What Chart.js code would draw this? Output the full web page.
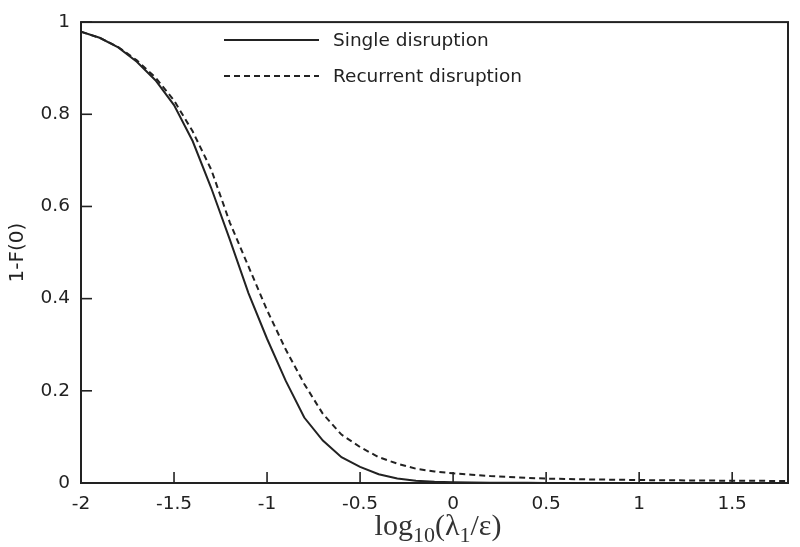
<!DOCTYPE html>
<html>
<head>
<meta charset="utf-8">
<script src="https://cdn.jsdelivr.net/npm/chart.js@4.4.1/dist/chart.umd.min.js"></script>
<style>
  html, body { margin: 0; padding: 0; background: #fff; }
  canvas { display: block; }
</style>
</head>
<body>
<canvas id="c" width="800" height="547"></canvas>
<script>
// ---- data ----
const xValues = [-2.0,-1.9,-1.8,-1.7,-1.6,-1.5,-1.4,-1.3,-1.2,-1.1,-1.0,-0.9,-0.8,-0.7,-0.6,-0.5,-0.4,-0.3,-0.2,-0.1,
                 0.0,0.1,0.2,0.3,0.4,0.5,0.6,0.7,0.8,0.9,1.0,1.1,1.2,1.3,1.4,1.5,1.6,1.7,1.8];
const singleDisruption = [0.979,0.966,0.945,0.914,0.874,0.820,0.742,0.640,0.528,0.412,0.313,0.222,0.142,0.092,0.056,0.035,0.019,0.010,0.005,0.0025,
                          0.0015,0.0009,0.0006,0.0004,0.0003,0.0002,0.0002,0.0001,0.0001,0.0001,0.0001,0,0,0,0,0,0,0,0];
const recurrentDisruption = [0.979,0.966,0.946,0.917,0.880,0.830,0.763,0.680,0.565,0.470,0.375,0.290,0.215,0.150,0.105,0.078,0.056,0.042,0.031,0.025,
                             0.021,0.018,0.015,0.013,0.011,0.0095,0.0088,0.008,0.0075,0.007,0.0065,0.006,0.0058,0.0055,0.0052,0.005,0.0048,0.0046,0.0044];
const seriesLabels = ['Single disruption', 'Recurrent disruption'];
const xTickValues = [-2,-1.5,-1,-0.5,0,0.5,1,1.5];
const yTickValues = [0,0.2,0.4,0.6,0.8,1];
// x title parts: [text, isSubscript]
const xTitleParts = [['log', false], ['10', true], ['(\u03bb', false], ['1', true], ['/\u03b5)', false]];
const yTitle = '1-F(0)';

const ink = '#222222';
const sansFont = "'DejaVu Sans', 'Liberation Sans', Arial, sans-serif";
const serifFont = "'Liberation Serif', 'Times New Roman', serif";

const toPoints = ys => xValues.map((x, i) => ({ x: x, y: ys[i] }));

const boxAndTicks = {
  id: 'boxAndTicks',
  afterDraw(chart) {
    const { ctx, chartArea: a, scales } = chart;
    ctx.save();
    ctx.strokeStyle = ink;
    ctx.lineWidth = 2;
    ctx.strokeRect(a.left, a.top, a.right - a.left, a.bottom - a.top);
    ctx.lineWidth = 1.6;
    const tl = 11;
    scales.x.ticks.forEach((t, i) => {
      const px = scales.x.getPixelForTick(i);
      ctx.beginPath(); ctx.moveTo(px, a.bottom); ctx.lineTo(px, a.bottom - tl); ctx.stroke();
    });
    scales.y.ticks.forEach((t, i) => {
      const py = scales.y.getPixelForTick(i);
      ctx.beginPath(); ctx.moveTo(a.left, py); ctx.lineTo(a.left + tl, py); ctx.stroke();
    });
    // legend
    const rows = [40, 76];
    chart.data.datasets.forEach((ds, i) => {
      const y = rows[i];
      ctx.save();
      ctx.strokeStyle = ds.borderColor;
      ctx.lineWidth = ds.borderWidth;
      ctx.setLineDash(ds.borderDash || []);
      ctx.beginPath(); ctx.moveTo(224, y); ctx.lineTo(319, y); ctx.stroke();
      ctx.restore();
      ctx.fillStyle = ink;
      ctx.font = '18.5px ' + sansFont;
      ctx.textBaseline = 'middle';
      ctx.textAlign = 'left';
      ctx.fillText(ds.label, 333, y + 1);
    });
    // x axis title with real subscripts
    const mainSize = 30, subSize = 22;
    let total = 0;
    xTitleParts.forEach(([t, sub]) => {
      ctx.font = (sub ? subSize : mainSize) + 'px ' + serifFont;
      total += ctx.measureText(t).width;
    });
    let x = 438 - total / 2;
    const baseY = 535;
    ctx.fillStyle = '#333333';
    ctx.textAlign = 'left';
    ctx.textBaseline = 'alphabetic';
    xTitleParts.forEach(([t, sub]) => {
      ctx.font = (sub ? subSize : mainSize) + 'px ' + serifFont;
      ctx.fillText(t, x, sub ? baseY + 7 : baseY);
      x += ctx.measureText(t).width;
    });
    ctx.restore();
  }
};

new Chart(document.getElementById('c'), {
  type: 'line',
  data: {
    datasets: [
      { label: seriesLabels[0], data: toPoints(singleDisruption), borderColor: ink, borderWidth: 2,
        pointRadius: 0, tension: 0, fill: false },
      { label: seriesLabels[1], data: toPoints(recurrentDisruption), borderColor: ink, borderWidth: 2,
        borderDash: [6, 4], pointRadius: 0, tension: 0, fill: false }
    ]
  },
  options: {
    responsive: false,
    animation: false,
    devicePixelRatio: 1,
    layout: { padding: { top: 16, right: 12, left: 0, bottom: 0 } },
    plugins: { legend: { display: false }, tooltip: { enabled: false } },
    scales: {
      x: {
        type: 'linear', min: -2, max: 1.8,
        afterBuildTicks: s => { s.ticks = xTickValues.map(v => ({ value: v })); },
        afterFit: s => { s.height = 64; },
        grid: { display: false, drawTicks: false, tickLength: 0 },
        border: { display: false },
        ticks: { color: ink, font: { family: sansFont, size: 18.5 }, padding: 10, maxRotation: 0,
                 callback: v => String(v) },
        title: { display: false }
      },
      y: {
        type: 'linear', min: 0, max: 1,
        afterBuildTicks: s => { s.ticks = yTickValues.map(v => ({ value: v })); },
        afterFit: s => { s.width = 81; },
        grid: { display: false, drawTicks: false, tickLength: 0 },
        border: { display: false },
        ticks: { color: ink, font: { family: sansFont, size: 18.5 }, padding: 11,
                 callback: v => String(v) },
        title: { display: true, text: yTitle, color: ink, font: { family: sansFont, size: 20 },
                 padding: { top: 6, bottom: 0 } }
      }
    }
  },
  plugins: [boxAndTicks]
});
</script>
</body>
</html>
